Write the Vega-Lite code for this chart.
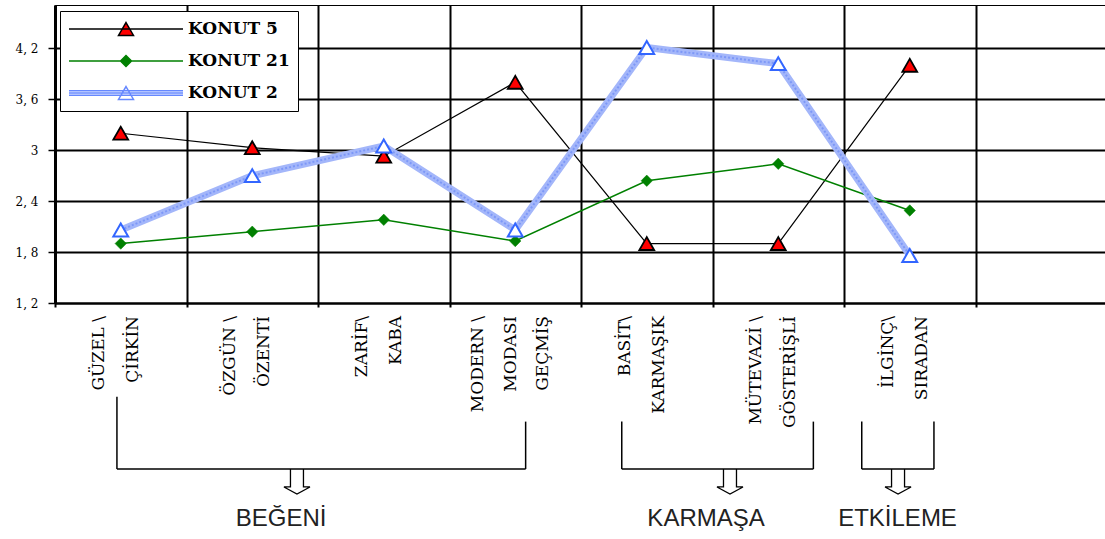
{
  "$schema": "https://vega.github.io/schema/vega-lite/v6.json",
  "autosize": {"type": "none"},
  "width": 1052,
  "height": 298,
  "padding": {"left": 55, "top": 5, "right": 0, "bottom": 236},
  "background": "white",
  "config": {"view": {"stroke": "#000", "strokeWidth": 1}},
  "datasets": {
    "puanlar": [
      {"boyut": "GÜZEL \\\nÇİRKİN", "seri": "KONUT 5", "puan": 3.2},
      {"boyut": "ÖZGÜN \\\nÖZENTİ", "seri": "KONUT 5", "puan": 3.03},
      {"boyut": "ZARİF\\\nKABA", "seri": "KONUT 5", "puan": 2.93},
      {"boyut": "MODERN \\\nMODASI\nGEÇMİŞ", "seri": "KONUT 5", "puan": 3.8},
      {"boyut": "BASİT\\\nKARMAŞIK", "seri": "KONUT 5", "puan": 1.9},
      {"boyut": "MÜTEVAZİ \\\nGÖSTERİŞLİ", "seri": "KONUT 5", "puan": 1.9},
      {"boyut": "İLGİNÇ\\\nSIRADAN", "seri": "KONUT 5", "puan": 4.0},
      {"boyut": "GÜZEL \\\nÇİRKİN", "seri": "KONUT 21", "puan": 1.9},
      {"boyut": "ÖZGÜN \\\nÖZENTİ", "seri": "KONUT 21", "puan": 2.04},
      {"boyut": "ZARİF\\\nKABA", "seri": "KONUT 21", "puan": 2.18},
      {"boyut": "MODERN \\\nMODASI\nGEÇMİŞ", "seri": "KONUT 21", "puan": 1.93},
      {"boyut": "BASİT\\\nKARMAŞIK", "seri": "KONUT 21", "puan": 2.64},
      {"boyut": "MÜTEVAZİ \\\nGÖSTERİŞLİ", "seri": "KONUT 21", "puan": 2.84},
      {"boyut": "İLGİNÇ\\\nSIRADAN", "seri": "KONUT 21", "puan": 2.29},
      {"boyut": "GÜZEL \\\nÇİRKİN", "seri": "KONUT 2", "puan": 2.06},
      {"boyut": "ÖZGÜN \\\nÖZENTİ", "seri": "KONUT 2", "puan": 2.7},
      {"boyut": "ZARİF\\\nKABA", "seri": "KONUT 2", "puan": 3.05},
      {"boyut": "MODERN \\\nMODASI\nGEÇMİŞ", "seri": "KONUT 2", "puan": 2.06},
      {"boyut": "BASİT\\\nKARMAŞIK", "seri": "KONUT 2", "puan": 4.21},
      {"boyut": "MÜTEVAZİ \\\nGÖSTERİŞLİ", "seri": "KONUT 2", "puan": 4.02},
      {"boyut": "İLGİNÇ\\\nSIRADAN", "seri": "KONUT 2", "puan": 1.76}
    ],
    "gruplar": [
      {"grup": "BEĞENİ", "bas": 0.471, "son": 3.579, "bas_ust": -0.315, "son_ust": -0.398, "ok": 1.84, "yazi": 1.719},
      {"grup": "KARMAŞA", "bas": 4.31, "son": 5.767, "bas_ust": -0.398, "son_ust": -0.398, "ok": 5.133, "yazi": 4.951},
      {"grup": "ETKİLEME", "bas": 6.135, "son": 6.684, "bas_ust": -0.398, "son_ust": -0.398, "ok": 6.411, "yazi": 6.407}
    ]
  },
  "layer": [
    {
      "data": {"name": "puanlar"},
      "encoding": {
        "x": {
          "field": "boyut", "type": "nominal",
          "scale": {"type": "band", "paddingInner": 0, "paddingOuter": 0,
            "domain": ["GÜZEL \\\nÇİRKİN", "ÖZGÜN \\\nÖZENTİ", "ZARİF\\\nKABA", "MODERN \\\nMODASI\nGEÇMİŞ", "BASİT\\\nKARMAŞIK", "MÜTEVAZİ \\\nGÖSTERİŞLİ", "İLGİNÇ\\\nSIRADAN", " "]},
          "axis": {
            "title": null, "tickBand": "extent", "grid": true, "gridColor": "#000", "gridWidth": 2, "gridOpacity": 1,
            "domainColor": "#000", "domainWidth": 2, "tickColor": "#000", "tickWidth": 2, "tickSize": 4,
            "labels": false
          }
        },
        "y": {
          "field": "puan", "type": "quantitative",
          "scale": {"domain": [1.2, 4.711], "nice": false, "zero": false},
          "axis": {
            "title": null, "values": [1.2, 1.8, 2.4, 3, 3.6, 4.2],
            "labelExpr": "replace(format(datum.value, '~g'), '.', ', ')",
            "domainColor": "#000", "domainWidth": 3, "tickColor": "#000", "tickWidth": 1.5, "tickSize": 7,
            "grid": true, "gridColor": "#000", "gridWidth": 2, "gridOpacity": 1,
            "labelFont": "DejaVu Serif", "labelFontSize": 12, "labelColor": "#000", "labelPadding": 10
          }
        }
      },
      "layer": [
        {"transform": [{"filter": "datum.seri === 'KONUT 5'"}], "mark": {"type": "line", "stroke": "#000", "strokeWidth": 1.2}},
        {"transform": [{"filter": "datum.seri === 'KONUT 21'"}], "mark": {"type": "line", "stroke": "#008000", "strokeWidth": 1.5}},
        {"transform": [{"filter": "datum.seri === 'KONUT 2'"}], "mark": {"type": "line", "stroke": "#a3b6fa", "strokeWidth": 7}},
        {"transform": [{"filter": "datum.seri === 'KONUT 2'"}], "mark": {"type": "line", "stroke": "#7d98f7", "strokeWidth": 2, "strokeDash": [2, 2]}},
        {"transform": [{"filter": "datum.seri === 'KONUT 5'"}], "mark": {"type": "point", "shape": "triangle-up", "size": 220, "filled": true, "fill": "#ff0000", "stroke": "#000", "strokeWidth": 1.8, "opacity": 1}},
        {"transform": [{"filter": "datum.seri === 'KONUT 21'"}], "mark": {"type": "point", "shape": "diamond", "size": 130, "filled": true, "fill": "#008000", "stroke": "#008000", "strokeWidth": 0.5, "opacity": 1}},
        {"transform": [{"filter": "datum.seri === 'KONUT 2'"}], "mark": {"type": "point", "shape": "triangle-up", "size": 220, "filled": true, "fill": "#ffffff", "stroke": "#3366ff", "strokeWidth": 2, "opacity": 1}},
        {
          "transform": [{"filter": "datum.seri === 'KONUT 5' && indexof(datum.boyut, 'MODERN') < 0"}],
          "mark": {"type": "text", "angle": 270, "align": "right", "baseline": "middle", "lineBreak": "\n", "lineHeight": 34,
            "font": "DejaVu Serif", "fontSize": 17, "color": "#000", "xOffset": -22, "yOffset": 13},
          "encoding": {"y": {"datum": 1.2, "type": "quantitative"}, "text": {"field": "boyut"}}
        },
        {
          "transform": [{"filter": "datum.seri === 'KONUT 5' && indexof(datum.boyut, 'MODERN') >= 0"}],
          "mark": {"type": "text", "angle": 270, "align": "right", "baseline": "middle", "lineBreak": "\n", "lineHeight": 32.5,
            "font": "DejaVu Serif", "fontSize": 17, "color": "#000", "xOffset": -37, "yOffset": 13},
          "encoding": {"y": {"datum": 1.2, "type": "quantitative"}, "text": {"field": "boyut"}}
        },
        {
          "transform": [{"filter": "false"}],
          "mark": {"type": "point", "filled": true},
          "encoding": {
            "shape": {
              "field": "seri", "type": "nominal",
              "scale": {"domain": ["KONUT 5", "KONUT 21", "KONUT 2"],
                "range": [
                  "M-1,0L1,0M0,-0.114L0.1316,0.114L-0.1316,0.114Z",
                  "M-1,0L1,0M-0.0965,0L0,-0.0965L0.0965,0L0,0.0965Z",
                  "M-1,-0.04L1,-0.04M-1,0L1,0M-1,0.04L1,0.04M0,-0.114L0.1316,0.114L-0.1316,0.114Z"
                ]},
              "legend": {
                "title": null, "orient": "none", "legendX": 5, "legendY": 6,
                "padding": 8, "strokeColor": "#000", "fillColor": "#fff",
                "symbolSize": 12996, "symbolStrokeWidth": 1.5, "symbolOpacity": 1,
                "clipHeight": 20, "rowPadding": 12, "labelOffset": 4,
                "labelFont": "DejaVu Serif", "labelFontSize": 17, "labelFontWeight": "bold", "labelColor": "#000"
              }
            },
            "fill": {
              "field": "seri", "type": "nominal",
              "scale": {"domain": ["KONUT 5", "KONUT 21", "KONUT 2"], "range": ["#ff0000", "#008000", "#ffffff"]}
            },
            "stroke": {
              "field": "seri", "type": "nominal",
              "scale": {"domain": ["KONUT 5", "KONUT 21", "KONUT 2"], "range": ["#000000", "#008000", "#6688ff"]}
            }
          }
        }
      ]
    },
    {
      "data": {"name": "gruplar"},
      "layer": [
        {
          "mark": {"type": "rule", "stroke": "#000", "strokeWidth": 1.5},
          "encoding": {
            "x": {"field": "bas", "type": "quantitative", "scale": {"domain": [0, 8], "nice": false, "zero": false}, "axis": null},
            "x2": {"field": "son"},
            "y": {"datum": -0.557, "type": "quantitative", "scale": {"domain": [0, 1], "nice": false, "zero": false}, "axis": null}
          }
        },
        {
          "mark": {"type": "rule", "stroke": "#000", "strokeWidth": 1.5},
          "encoding": {
            "x": {"field": "bas", "type": "quantitative"},
            "y": {"field": "bas_ust", "type": "quantitative"},
            "y2": {"datum": -0.557}
          }
        },
        {
          "mark": {"type": "rule", "stroke": "#000", "strokeWidth": 1.5},
          "encoding": {
            "x": {"field": "son", "type": "quantitative"},
            "y": {"field": "son_ust", "type": "quantitative"},
            "y2": {"datum": -0.557}
          }
        },
        {
          "mark": {"type": "point", "shape": "M-0.5,-0.96L-0.5,0.42L-1,0.42L0,0.96L1,0.42L0.5,0.42L0.5,-0.96", "size": 676, "filled": false, "fill": null, "stroke": "#000", "strokeWidth": 1.3, "opacity": 1},
          "encoding": {
            "x": {"field": "ok", "type": "quantitative"},
            "y": {"datum": -0.599, "type": "quantitative"}
          }
        },
        {
          "mark": {"type": "text", "font": "Liberation Sans", "fontSize": 24, "color": "#222", "align": "center", "baseline": "middle"},
          "encoding": {
            "x": {"field": "yazi", "type": "quantitative"},
            "y": {"datum": -0.725, "type": "quantitative"},
            "text": {"field": "grup"}
          }
        }
      ]
    }
  ],
  "resolve": {"scale": {"x": "independent", "y": "independent"}}
}
